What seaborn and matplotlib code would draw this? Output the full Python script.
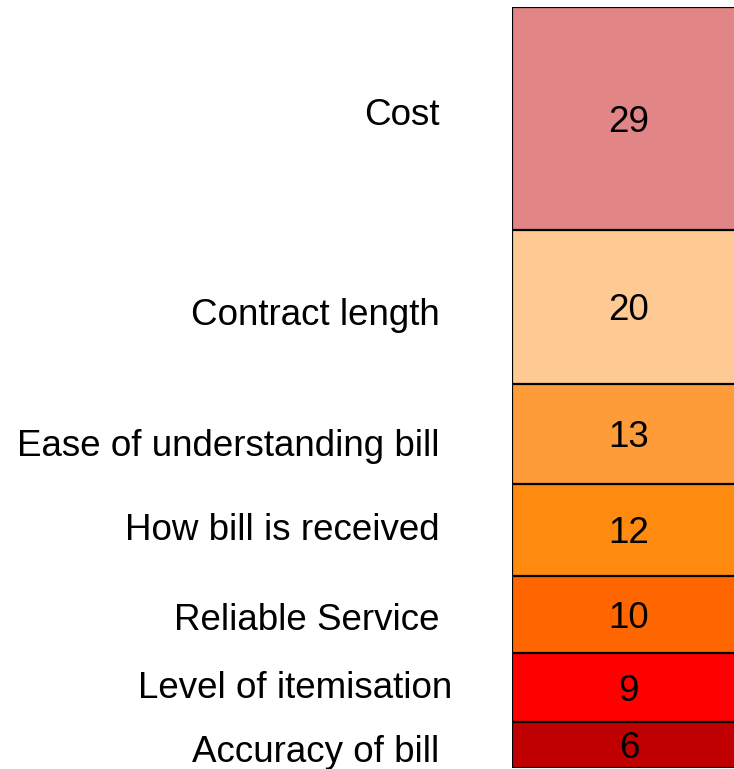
import numpy as np
import matplotlib
matplotlib.use("Agg")
import matplotlib.pyplot as plt
import seaborn as sns

# data, bottom segment first
factors = ["Accuracy of bill", "Level of itemisation", "Reliable Service",
           "How bill is received", "Ease of understanding bill",
           "Contract length", "Cost"]
scores = [6, 9, 10, 12, 13, 20, 29]
colors = ["#C00000", "#FF0000", "#FF6600", "#FF8A10", "#FF9C3A",
          "#FFC994", "#E28586"]

# small layout nudges for the side labels (axes fraction / data units)
label_x = [-0.31, -0.255, -0.31, -0.31, -0.31, -0.31, -0.31]
label_dy = [-0.5, 0.4, -0.3, 0.4, -1.2, -0.6, 0.9]
text_shift = -0.5

sns.set_style("white")
plt.rcParams["font.family"] = ["Liberation Sans", "DejaVu Sans"]

fig = plt.figure(figsize=(7.34, 7.69), dpi=100)
ax = fig.add_axes([512 / 734, 1 / 769, 234 / 734, 761 / 769])

tops = np.cumsum(scores)
bottoms = tops - np.array(scores)

# draw cumulative bars from tallest to shortest so they stack
for i in range(len(scores) - 1, -1, -1):
    sns.barplot(x=[0], y=[tops[i]], color=colors[i], edgecolor="black",
                linewidth=1.6, width=1.0, saturation=1, ax=ax)

ax.set_xlim(-0.5, 0.5)
ax.set_ylim(0, tops[-1])
ax.axis("off")

for i, (name, val) in enumerate(zip(factors, scores)):
    mid = bottoms[i] + val / 2 + text_shift
    ax.text(0, mid, str(val), ha="center", va="center", fontsize=26.5,
            color="black")
    ax.text(label_x[i], mid + label_dy[i], name, ha="right", va="center",
            fontsize=26.5, color="black",
            transform=ax.get_yaxis_transform(), clip_on=False)

fig.savefig("out.png", dpi=100)
